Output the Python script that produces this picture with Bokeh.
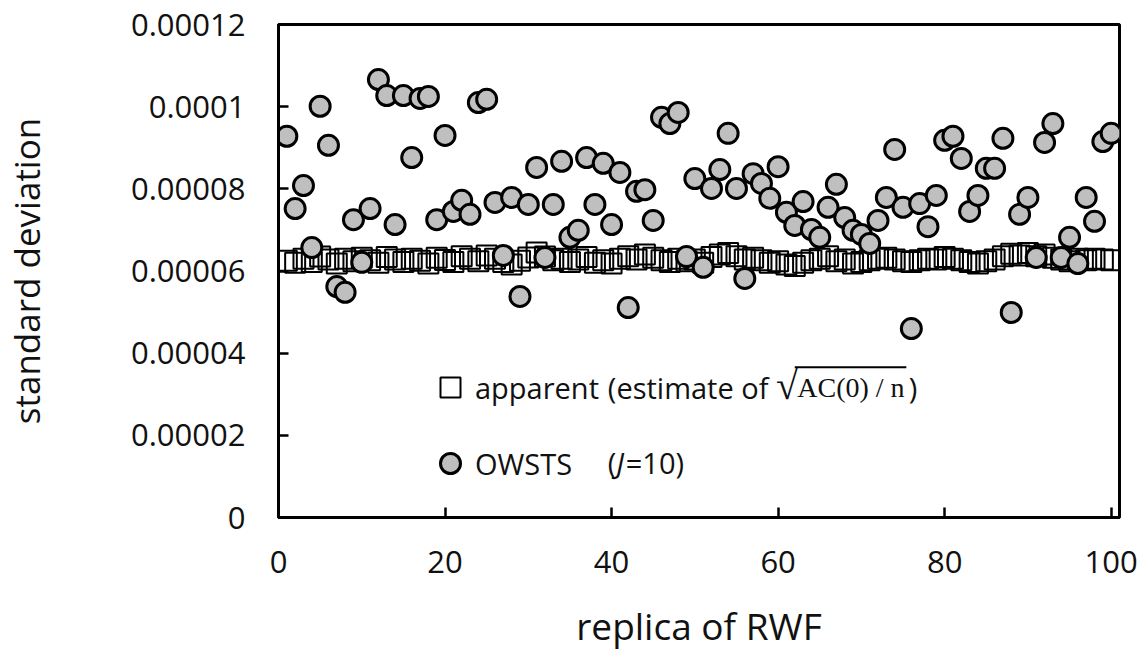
from bokeh.plotting import figure
from bokeh.models import (ColumnDataSource, FixedTicker, Range1d, Legend, LegendItem,
                          Label, BoxAnnotation)
from bokeh.embed import file_html
from bokeh.resources import INLINE

# ---- data (values in units of 1e-5) ----
replica = list(range(1, 101))

owsts_e5 = [
    9.28, 7.52, 8.08, 6.57, 10.01, 9.06, 5.62, 5.48, 7.25, 6.21,
    7.52, 10.66, 10.27, 7.13, 10.27, 8.76, 10.20, 10.25, 7.25, 9.30,
    7.45, 7.72, 7.38, 10.10, 10.18, 7.67, 6.38, 7.79, 5.38, 7.62,
    8.52, 6.33, 7.62, 8.67, 6.82, 6.99, 8.76, 7.62, 8.62, 7.13,
    8.40, 5.11, 7.94, 7.98, 7.23, 9.74, 9.59, 9.86, 6.35, 8.25,
    6.09, 8.01, 8.47, 9.35, 8.01, 5.82, 8.37, 8.13, 7.77, 8.54,
    7.43, 7.11, 7.69, 7.01, 6.82, 7.55, 8.11, 7.30, 6.99, 6.89,
    6.67, 7.23, 7.79, 8.96, 7.55, 4.60, 7.64, 7.08, 7.84, 9.18,
    9.28, 8.74, 7.45, 7.84, 8.50, 8.50, 9.23, 4.99, 7.38, 7.79,
    6.33, 9.13, 9.59, 6.33, 6.82, 6.18, 7.79, 7.21, 9.15, 9.35,
]

apparent_e5 = [
    6.25, 6.20, 6.30, 6.22, 6.35, 6.28, 6.18, 6.30, 6.24, 6.32,
    6.26, 6.20, 6.34, 6.28, 6.22, 6.30, 6.25, 6.18, 6.32, 6.27,
    6.22, 6.36, 6.30, 6.24, 6.38, 6.30, 6.22, 6.16, 6.25, 6.33,
    6.45, 6.35, 6.26, 6.30, 6.22, 6.28, 6.34, 6.20, 6.26, 6.18,
    6.30, 6.36, 6.28, 6.40, 6.32, 6.26, 6.22, 6.30, 6.24, 6.28,
    6.20, 6.34, 6.40, 6.44, 6.36, 6.28, 6.32, 6.26, 6.20, 6.24,
    6.16, 6.12, 6.20, 6.26, 6.30, 6.36, 6.24, 6.28, 6.18, 6.22,
    6.26, 6.30, 6.32, 6.28, 6.24, 6.22, 6.26, 6.30, 6.28, 6.34,
    6.30, 6.26, 6.22, 6.18, 6.24, 6.28, 6.36, 6.42, 6.38, 6.44,
    6.36, 6.40, 6.32, 6.28, 6.24, 6.30, 6.26, 6.30, 6.28, 6.26,
]

x_ticks = [0, 20, 40, 60, 80, 100]
y_ticks = [0.0, 0.00002, 0.00004, 0.00006, 0.00008, 0.0001, 0.00012]
y_tick_labels = ["0", "0.00002", "0.00004", "0.00006", "0.00008", "0.0001", "0.00012"]

x_title = "replica of RWF"
y_title = "standard deviation"
label_apparent = "apparent"
label_owsts = "OWSTS"

src = ColumnDataSource(dict(
    x=replica,
    owsts=[v * 1e-5 for v in owsts_e5],
    apparent=[v * 1e-5 for v in apparent_e5],
))

FONT = "Open Sans"
TXT = "#111111"

p = figure(width=1147, height=653, output_backend="svg", toolbar_location=None,
           x_range=Range1d(0, 101), y_range=Range1d(0, 0.00012),
           min_border_left=277, min_border_right=28, min_border_top=24,
           min_border_bottom=136)
p.background_fill_color = "white"
p.border_fill_color = "white"
p.outline_line_color = "black"
p.outline_line_width = 3
p.grid.visible = False

sq = p.scatter("x", "apparent", source=src, marker="square", size=20,
               fill_alpha=0, line_color="black", line_width=2)
ci = p.scatter("x", "owsts", source=src, marker="circle", size=20,
               fill_color="#bfbfbf", line_color="black", line_width=3)

for ax in (p.xaxis[0], p.yaxis[0]):
    ax.axis_line_width = 3
    ax.axis_line_color = "black"
    ax.major_tick_in = 10
    ax.major_tick_out = 0
    ax.major_tick_line_width = 2.5
    ax.major_tick_line_color = "black"
    ax.minor_tick_line_color = None
    ax.major_label_text_font = FONT
    ax.major_label_text_font_size = "31px"
    ax.major_label_text_color = TXT
    ax.axis_label_text_font = FONT
    ax.axis_label_text_font_style = "normal"
    ax.axis_label_text_color = TXT

p.xaxis[0].axis_label_text_font_size = "37px"
p.yaxis[0].axis_label_text_font_size = "35px"
p.xaxis[0].ticker = FixedTicker(ticks=x_ticks)
p.yaxis[0].ticker = FixedTicker(ticks=y_ticks)
p.yaxis[0].major_label_overrides = {t: l for t, l in zip(y_ticks, y_tick_labels)}
p.xaxis[0].major_label_standoff = 33
p.yaxis[0].major_label_standoff = 33
p.xaxis[0].axis_label = x_title
p.yaxis[0].axis_label = y_title
p.xaxis[0].axis_label_standoff = 24
p.yaxis[0].axis_label_standoff = 78

legend = Legend(items=[LegendItem(label=label_apparent, renderers=[sq]),
                       LegendItem(label=label_owsts, renderers=[ci])],
                location=(147, 29), orientation="vertical",
                glyph_width=50, glyph_height=50, label_height=50,
                spacing=26, padding=0, margin=0, label_standoff=0,
                border_line_color=None, background_fill_alpha=0,
                label_text_font=FONT, label_text_font_size="29px",
                label_text_color=TXT)
p.add_layout(legend)

# extra legend text (data-unit placement)
row1 = 3.16e-5
row2 = 1.33e-5
def lab(x, y, t, font=FONT, size="29px", style="normal", baseline="middle"):
    p.add_layout(Label(x=x, y=y, text=t, text_font=font, text_font_size=size,
                       text_font_style=style, text_color=TXT,
                       text_align="left", text_baseline=baseline))

lab(39.55, row1, "(estimate of")
lab(59.75, row1 + 0.05e-5, "\u221a", font="Liberation Serif", size="40px")
lab(62.3, row1, "AC(0) / n", font="Liberation Serif", size="28px")
lab(75.7, row1, ")")
p.add_layout(BoxAnnotation(left=62.0, right=75.4, bottom=3.63e-5, top=3.68e-5,
                           fill_color="black", fill_alpha=1, line_alpha=0))

lab(39.55, row2, "(")
lab(40.55, row2, "J", style="italic")
lab(41.7, row2, "=10)")

open("out.html", "w").write(file_html(p, INLINE))
